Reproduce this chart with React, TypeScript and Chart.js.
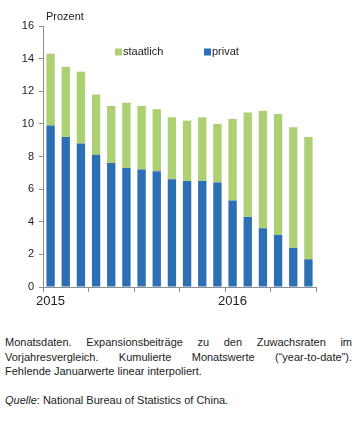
import React, { useEffect, useRef } from "react";
import { Chart, registerables } from "chart.js";

Chart.register(...registerables);

const months = [
  "Jan 2015", "Feb 2015", "Mär 2015", "Apr 2015", "Mai 2015", "Jun 2015",
  "Jul 2015", "Aug 2015", "Sep 2015", "Okt 2015", "Nov 2015", "Dez 2015",
  "Jan 2016", "Feb 2016", "Mär 2016", "Apr 2016", "Mai 2016", "Jun 2016",
];
const yearLabels: Record<number, string> = { 0: "2015", 12: "2016" };
const privat = [9.9, 9.2, 8.8, 8.1, 7.6, 7.3, 7.2, 7.1, 6.6, 6.5, 6.5, 6.4, 5.3, 4.3, 3.6, 3.2, 2.4, 1.7];
const staatlich = [4.4, 4.3, 4.4, 3.7, 3.5, 4.0, 3.9, 3.8, 3.8, 3.7, 3.9, 3.6, 5.0, 6.4, 7.2, 7.4, 7.4, 7.5];
const yTicks = [0, 2, 4, 6, 8, 10, 12, 14, 16];

const GREEN = "#acd072";
const BLUE = "#2c6fb4";
const FONT = "'Liberation Sans', Arial, sans-serif";

const overlay = {
  id: "overlay",
  afterDraw(chart: any) {
    const ctx = chart.ctx;
    const a = chart.chartArea;
    ctx.save();
    ctx.fillStyle = "#222";
    ctx.font = `11px ${FONT}`;
    ctx.textBaseline = "middle";
    ctx.textAlign = "left";
    ctx.fillText("Prozent", a.left + 3, a.top - 9);
    // legend
    const ly = a.top + 26;
    const items = [
      { label: "staatlich", color: GREEN, x: a.left + 72 },
      { label: "privat", color: BLUE, x: a.left + 161 },
    ];
    for (const it of items) {
      ctx.fillStyle = it.color;
      ctx.fillRect(it.x, ly - 3.5, 7, 7);
      ctx.fillStyle = "#222";
      ctx.fillText(it.label, it.x + 8, ly);
    }
    ctx.restore();
  },
};

function BarChart() {
  const ref = useRef<HTMLCanvasElement | null>(null);
  useEffect(() => {
    if (!ref.current) return;
    const chart = new Chart(ref.current, {
      type: "bar",
      data: {
        labels: months,
        datasets: [
          { label: "privat", data: privat, backgroundColor: BLUE, barPercentage: 0.55, categoryPercentage: 1 },
          { label: "staatlich", data: staatlich, backgroundColor: GREEN, barPercentage: 0.55, categoryPercentage: 1 },
        ],
      },
      options: {
        animation: false,
        responsive: false,
        devicePixelRatio: 1,
        layout: { padding: { left: 0, right: 44, top: 26, bottom: 0 } },
        plugins: { legend: { display: false }, tooltip: { enabled: false }, title: { display: false } },
        scales: {
          x: {
            stacked: true,
            offset: true,
            afterFit: (s: any) => { s.height = 33; },
            border: { display: true, color: "#8c8c8c", width: 1 },
            grid: {
              offset: true,
              drawOnChartArea: false,
              drawTicks: true,
              tickLength: 5,
              color: (c: any) => (c.index === undefined || c.index % 3 === 0 ? "#8c8c8c" : "rgba(0,0,0,0)"),
            },
            ticks: {
              autoSkip: false,
              maxRotation: 0,
              padding: 2,
              color: "#222",
              font: { family: FONT, size: 13 },
              callback: (_v: any, i: number) => yearLabels[i] ?? "",
            },
          },
          y: {
            stacked: true,
            min: 0,
            max: 16,
            afterFit: (s: any) => { s.width = 43; },
            afterBuildTicks: (s: any) => { s.ticks = yTicks.map((v) => ({ value: v })); },
            border: { display: true, color: "#8c8c8c", width: 1 },
            grid: { drawOnChartArea: false, drawTicks: true, tickLength: 4, color: "#8c8c8c" },
            ticks: { color: "#222", padding: 5, font: { family: FONT, size: 11 } },
          },
        },
      },
      plugins: [overlay],
    });
    return () => chart.destroy();
  }, []);
  return <canvas ref={ref} width={360} height={320} style={{ display: "block" }} />;
}

export default function App() {
  const line: React.CSSProperties = {
    position: "absolute",
    left: 5,
    width: 347,
    margin: 0,
    fontFamily: FONT,
    fontSize: 11,
    lineHeight: "14px",
    color: "#222",
    whiteSpace: "nowrap",
  };
  const just: React.CSSProperties = { ...line, textAlign: "justify", textAlignLast: "justify" as any, whiteSpace: "normal" };
  return (
    <div style={{ position: "absolute", left: 0, top: 0, width: 360, height: 427, background: "#fff" }}>
      <BarChart />
      <div style={{ ...just, top: 335 }}>Monatsdaten. Expansionsbeiträge zu den Zuwachsraten im</div>
      <div style={{ ...just, top: 350 }}>Vorjahresvergleich. Kumulierte Monatswerte (“year-to-date”).</div>
      <div style={{ ...line, top: 364 }}>Fehlende Januarwerte linear interpoliert.</div>
      <div style={{ ...line, top: 393 }}>
        <i>Quelle</i>: National Bureau of Statistics of China.
      </div>
    </div>
  );
}
